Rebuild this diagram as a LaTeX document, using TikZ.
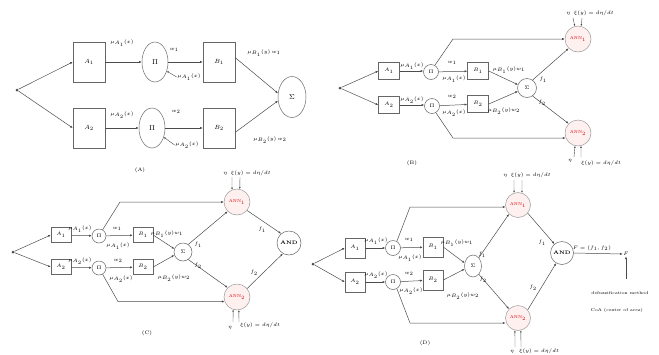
\documentclass[tikz,border=0pt]{standalone}
\usetikzlibrary{arrows.meta,shapes.geometric}
\begin{document}
\begin{tikzpicture}[x=1pt,y=-1pt,
  ln/.style={draw=black!70,line width=0.5pt},
  arr/.style={ln,-{Latex[length=2.6pt,width=2.2pt]}},
  sarr/.style={ln,line width=0.4pt,-{Latex[length=2pt,width=1.8pt]}},
  dotn/.style={circle,fill=black!70,inner sep=0pt,minimum size=3pt},
  boxA/.style={draw=black!60,line width=0.5pt,minimum width=32pt,minimum height=40pt,inner sep=0pt,font=\fontsize{6}{7}\selectfont},
  ellA/.style={ellipse,draw=black!60,line width=0.5pt,minimum width=26pt,minimum height=40pt,inner sep=0pt,font=\fontsize{7}{8}\selectfont},
  boxS/.style={draw=black!60,line width=0.5pt,minimum width=21pt,minimum height=17pt,inner sep=0pt,font=\fontsize{4.5}{5}\selectfont},
  cirS/.style={circle,draw=black!60,line width=0.5pt,minimum size=15pt,inner sep=0pt,font=\fontsize{4.5}{5}\selectfont},
  sumS/.style={circle,draw=black!60,line width=0.5pt,minimum size=19pt,inner sep=0pt,font=\fontsize{5}{6}\selectfont},
  ann/.style={circle,draw=black!40,line width=0.5pt,fill=red!6,text=red!85!black,minimum size=26pt,inner sep=0pt,font=\fontsize{4.2}{5}\selectfont},
  andn/.style={circle,draw=black!60,line width=0.5pt,minimum size=24pt,inner sep=0pt,font=\fontsize{5}{6}\selectfont\bfseries},
  lblA/.style={inner sep=0.5pt,font=\fontsize{5.5}{6}\selectfont},
  lbl/.style={inner sep=0.5pt,font=\fontsize{4}{4.5}\selectfont},
  captxt/.style={inner sep=0.5pt,font=\fontsize{5}{6}\selectfont}
]
\useasboundingbox (0,0) rectangle (659,354);

% ================= Panel A =================
\node[dotn] (xa) at (17,90) {};
\node[boxA] (a1) at (89,62) {$A_1$};
\node[boxA] (a2) at (89,128) {$A_2$};
\node[ellA] (p1) at (155,62) {$\Pi$};
\node[ellA] (p2) at (152,128) {$\Pi$};
\node[boxA] (b1) at (219,62) {$B_1$};
\node[boxA] (b2) at (219,128) {$B_2$};
\node[ellA,minimum width=28pt,minimum height=41pt] (s) at (292,97) {$\Sigma$};
\draw[arr] (xa) -- (a1.west);
\draw[arr] (xa) -- (a2.west);
\draw[arr] (a1) -- (p1);
\draw[arr] (a2) -- (p2);
\draw[arr] (p1) -- (b1);
\draw[arr] (p2) -- (b2);
\draw[arr] (b1.15) -- (s.165);
\draw[arr] (b2.-15) -- (s.195);
\node[lblA] (la1) at (122,43) {$\mu_{A_1}(x)$};
\node[lblA] (la2) at (122,115) {$\mu_{A_2}(x)$};
\node[lblA] (lw1) at (174,50) {$w_1$};
\node[lblA] (lw2) at (176,112) {$w_2$};
\node[lblA] (lm1) at (189,77) {$\mu_{A_1}(x)$};
\node[lblA] (lm2) at (187,145) {$\mu_{A_2}(x)$};
\draw[sarr] (lm1.west) -- (p1.-38);
\draw[sarr] (lm2.west) -- (p2.-38);
\node[lblA] (lb1) at (264,53) {$\mu_{B_1}(y)\,w_1$};
\node[lblA] (lb2) at (270,140) {$\mu_{B_2}(y)\,w_2$};
\node[captxt] (capA) at (140,170) {(A)};

% ================= Panel B =================
\node[dotn] (xb) at (340,88) {};
\node[boxS] (ba1) at (389,71) {$A_1$};
\node[boxS] (ba2) at (389,105) {$A_2$};
\node[cirS] (bp1) at (431,72) {$\Pi$};
\node[cirS] (bp2) at (432,106) {$\Pi$};
\node[boxS] (bb1) at (478,71) {$B_1$};
\node[boxS] (bb2) at (478,104) {$B_2$};
\node[sumS] (bs) at (527,88) {$\Sigma$};
\node[ann] (bn1) at (578,39) {ANN$_1$};
\node[ann] (bn2) at (578,133) {ANN$_2$};
\coordinate (bc1) at (453,39);
\coordinate (bc2) at (453,138);
\draw[arr] (xb) -- (ba1.west);
\draw[arr] (xb) -- (ba2.west);
\draw[arr] (ba1.east) -- (bp1.west |- ba1.east);
\draw[arr] (ba2.east) -- (bp2.west |- ba2.east);
\draw[arr] (bp1) -- (bb1);
\draw[arr] (bp2) -- (bb2);
\draw[arr] (bb1.east) -- (bs.160);
\draw[arr] (bb2.east) -- (bs.200);
\draw[arr] (bs.55) -- (bn1.225);
\draw[arr] (bs.-55) -- (bn2.135);
\draw[arr] (bp1.60) -- (bc1) -- (bn1.west);
\draw[arr] (bp2.-60) -- (bc2) -- (bc2 -| bn2.200);
\node[lbl] (bla1) at (412,66) {$\mu_{A_1}(x)$};
\node[lbl] (bla2) at (412,100) {$\mu_{A_2}(x)$};
\node[lbl] (blw1) at (452,63) {$w_1$};
\node[lbl] (blw2) at (452,97) {$w_2$};
\node[lbl] (blm1) at (454,79) {$\mu_{A_1}(x)$};
\node[lbl] (blm2) at (454,113) {$\mu_{A_2}(x)$};
\node[lbl] (blb1) at (509,70) {$\mu_{B_1}(y)w_1$};
\node[lbl] (blb2) at (504,111) {$\mu_{B_2}(y)w_2$};
\node[lbl] (bf1) at (543,80) {$f_1$};
\node[lbl] (bf2) at (542,103) {$f_2$};
\node[lbl] (bt) at (590,13) {$\eta$ \ $\xi(y)=d\eta/dt$};
\coordinate (bt1) at (573,18);
\coordinate (bt2) at (582,18);
\draw[sarr] (bt1) -- (bn1.104);
\draw[sarr] (bt2) -- (bn1.76);
\coordinate (bu1) at (574,157);
\coordinate (bu2) at (581,157);
\draw[sarr] (bu1) -- (bn2.-103);
\draw[sarr] (bu2) -- (bn2.-77);
\node[lbl] (bue) at (570,161) {$\eta$};
\node[lbl] (bux) at (601,163) {$\xi(y)=d\eta/dt$};
\node[captxt] (capB) at (412,163) {(B)};

% ================= Panel C =================
\node[dotn] (xc) at (13,252) {};
\node[boxS,minimum width=20pt,minimum height=15pt] (ca1) at (61,235) {$A_1$};
\node[boxS,minimum width=20pt,minimum height=15pt] (ca2) at (61,267) {$A_2$};
\node[cirS,minimum size=14pt] (cp1) at (99,236) {$\Pi$};
\node[cirS,minimum size=14pt] (cp2) at (99,268) {$\Pi$};
\node[boxS,minimum width=20pt,minimum height=15pt] (cb1) at (143,235) {$B_1$};
\node[boxS,minimum width=20pt,minimum height=15pt] (cb2) at (143,267) {$B_2$};
\node[sumS,minimum size=18pt] (cs) at (183,252) {$\Sigma$};
\node[ann] (cn1) at (237,202) {ANN$_1$};
\node[ann] (cn2) at (237,297) {ANN$_2$};
\node[andn] (cand) at (289,243) {AND};
\coordinate (cc1) at (120,202);
\coordinate (cc2) at (118,301.5);
\draw[arr] (xc) -- (ca1.west);
\draw[arr] (xc) -- (ca2.west);
\draw[arr] (ca1) -- (cp1);
\draw[arr] (ca2) -- (cp2);
\draw[arr] (cp1) -- (cb1);
\draw[arr] (cp2) -- (cb2);
\draw[arr] (cb1.east) -- (cs.160);
\draw[arr] (cb2.east) -- (cs.200);
\draw[arr] (cs.55) -- (cn1.225);
\draw[arr] (cs.-55) -- (cn2.135);
\draw[arr] (cp1.60) -- (cc1) -- (cn1.west);
\draw[arr] (cp2.-60) -- (cc2) -- (cc2 -| cn2.200);
\draw[arr] (cn1.-40) -- (cand.130);
\draw[arr] (cn2.40) -- (cand.-120);
\node[lbl] (cla1) at (80,229) {$\mu_{A_1}(x)$};
\node[lbl] (cla2) at (80,261) {$\mu_{A_2}(x)$};
\node[lbl] (clw1) at (117,229) {$w_1$};
\node[lbl] (clw2) at (118,261) {$w_2$};
\node[lbl] (clm1) at (118,246) {$\mu_{A_1}(x)$};
\node[lbl] (clm2) at (121,279) {$\mu_{A_2}(x)$};
\node[lbl] (clb1) at (167,234) {$\mu_{B_1}(y)w_1$};
\node[lbl] (clb2) at (174,278) {$\mu_{B_2}(y)w_2$};
\node[lbl] (cf1) at (198,245) {$f_1$};
\node[lbl] (cf2) at (198,266) {$f_2$};
\node[lbl] (cg1) at (262,230) {$f_1$};
\node[lbl] (cg2) at (254,273) {$f_2$};
\node[lbl] (ct) at (247,173) {$\eta$ \ $\xi(y)=d\eta/dt$};
\coordinate (ct1) at (232,177);
\coordinate (ct2) at (240,177);
\draw[sarr] (ct1) -- (cn1.112);
\draw[sarr] (ct2) -- (cn1.78);
\coordinate (cu1) at (233,322);
\coordinate (cu2) at (239,322);
\draw[sarr] (cu1) -- (cn2.-107);
\draw[sarr] (cu2) -- (cn2.-82);
\node[lbl] (cue) at (230,328) {$\eta$};
\node[lbl] (cux) at (260,325) {$\xi(y)=d\eta/dt$};
\node[captxt] (capC) at (147,333) {(C)};

% ================= Panel D =================
\node[dotn] (xd) at (313,264) {};
\node[boxS,minimum width=20pt,minimum height=20pt] (da1) at (355,248) {$A_1$};
\node[boxS,minimum width=20pt,minimum height=20pt] (da2) at (355,282) {$A_2$};
\node[cirS,minimum size=15pt] (dp1) at (393,248) {$\Pi$};
\node[cirS,minimum size=15pt] (dp2) at (393,282) {$\Pi$};
\node[boxS,minimum width=20pt,minimum height=20pt] (db1) at (433,247) {$B_1$};
\node[boxS,minimum width=20pt,minimum height=20pt] (db2) at (433,280) {$B_2$};
\node[sumS,ellipse,minimum width=17pt,minimum height=22pt] (ds) at (473,266) {$\Sigma$};
\node[ann,minimum size=25pt] (dn1) at (518,205) {ANN$_1$};
\node[ann,minimum size=25pt] (dn2) at (518,318) {ANN$_2$};
\node[andn,minimum size=23pt] (dand) at (562,253) {AND};
\node[lbl,font=\fontsize{4.5}{5}\selectfont] (dF) at (626,254) {$F$};
\coordinate (dc1) at (410,207);
\coordinate (dc2) at (410,323);
\draw[arr] (xd) -- (da1.west);
\draw[arr] (xd) -- (da2.west);
\draw[arr] (da1) -- (dp1);
\draw[arr] (da2) -- (dp2);
\draw[arr] (dp1) -- (db1);
\draw[arr] (dp2) -- (db2);
\draw[arr] (db1.east) -- (ds.160);
\draw[arr] (db2.east) -- (ds.200);
\draw[arr] (ds.55) -- (dn1.225);
\draw[arr] (ds.-55) -- (dn2.135);
\draw[arr] (dp1.60) -- (dc1) -- (dc1 -| dn1.190);
\draw[arr] (dp2.-60) -- (dc2) -- (dc2 -| dn2.170);
\draw[arr] (dn1.-40) -- (dand.130);
\draw[arr] (dn2.40) -- (dand.-120);
\draw[arr] (dand.east) -- (dF.west);
\coordinate (dd) at (626,279);
\draw[arr] (dd) -- (dF.south);
\node[lbl] (dla1) at (376,241) {$\mu_{A_1}(x)$};
\node[lbl] (dla2) at (376,275) {$\mu_{A_2}(x)$};
\node[lbl] (dlw1) at (409,240) {$w_1$};
\node[lbl] (dlw2) at (409,274) {$w_2$};
\node[lbl] (dlm1) at (410,258) {$\mu_{A_1}(x)$};
\node[lbl] (dlm2) at (411,291) {$\mu_{A_2}(x)$};
\node[lbl] (dlb1) at (457,243) {$\mu_{B_1}(y)w_1$};
\node[lbl] (dlb2) at (463,296) {$\mu_{B_2}(y)w_2$};
\node[lbl] (df1) at (482,255) {$f_1$};
\node[lbl] (df2) at (483,280) {$f_2$};
\node[lbl] (dg1) at (542,243) {$f_1$};
\node[lbl] (dg2) at (533,288) {$f_2$};
\node[lbl] (dlF) at (592,248) {$F=(f_1,f_2)$};
\node[lbl,font=\fontsize{4.2}{5}\selectfont] (ddm) at (620,293) {defuzzification method};
\node[lbl,font=\fontsize{4.2}{5}\selectfont] (dca) at (617,310) {CoA (center of area)};
\node[lbl] (dt) at (527,175) {$\eta$ \ $\xi(y)=d\eta/dt$};
\coordinate (dt1) at (514,180);
\coordinate (dt2) at (522,180);
\draw[sarr] (dt1) -- (dn1.108);
\draw[sarr] (dt2) -- (dn1.72);
\coordinate (du1) at (515,347);
\coordinate (du2) at (521,347);
\draw[sarr] (du1) -- (dn2.-104);
\draw[sarr] (du2) -- (dn2.-77);
\node[lbl] (due) at (512,352) {$\eta$};
\node[lbl] (dux) at (539,351) {$\xi(y)=d\eta/dt$};
\node[captxt] (capD) at (425,343) {(D)};
\end{tikzpicture}
\end{document}
